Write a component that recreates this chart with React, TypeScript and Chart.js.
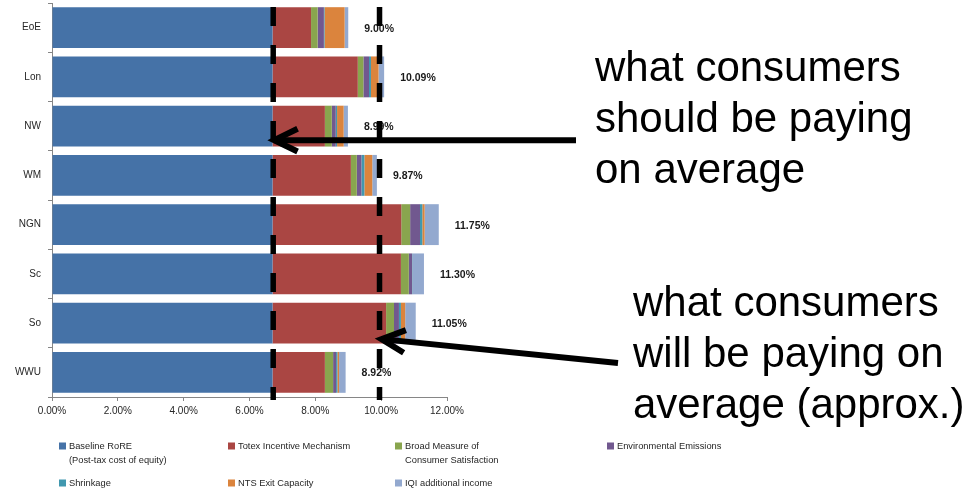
import React, { useEffect, useRef } from 'react';
import { Chart, registerables } from 'chart.js';

Chart.register(...registerables);

// ---- data ----
const categories = ['EoE', 'Lon', 'NW', 'WM', 'NGN', 'Sc', 'So', 'WWU'];
const baselineRoRE = [6.7, 6.7, 6.7, 6.7, 6.7, 6.7, 6.7, 6.7];
const totexIncentive = [1.17, 2.59, 1.59, 2.38, 3.91, 3.9, 3.45, 1.59];
const broadMeasure = [0.2, 0.17, 0.21, 0.18, 0.27, 0.24, 0.24, 0.25];
const envEmissions = [0.19, 0.17, 0.12, 0.14, 0.3, 0.1, 0.15, 0.09];
const shrinkage = [0.02, 0.06, 0.04, 0.09, 0.07, 0.01, 0.06, 0.04];
const ntsExitCapacity = [0.61, 0.23, 0.2, 0.24, 0.07, 0.0, 0.13, 0.05];
const iqiIncome = [0.11, 0.17, 0.13, 0.14, 0.43, 0.35, 0.32, 0.2];

const seriesNames = [
  'Baseline RoRE\n(Post-tax cost of equity)',
  'Totex Incentive Mechanism',
  'Broad Measure of\nConsumer Satisfaction',
  'Environmental Emissions',
  'Shrinkage',
  'NTS Exit Capacity',
  'IQI additional income',
];
const seriesValues = [baselineRoRE, totexIncentive, broadMeasure, envEmissions, shrinkage, ntsExitCapacity, iqiIncome];
const seriesColors = ['#4572A7', '#AA4643', '#89A54E', '#71588F', '#4198AF', '#DB843D', '#93A9CF'];

const xMin = 0;
const xMax = 12;
const xStep = 2;

// reference lines (in % units)
const shouldPayValue = 6.72;
const willPayValue = 9.95;
const noteShould = ['what consumers', 'should be paying', 'on average'];
const noteWill = ['what consumers', 'will be paying on', 'average (approx.)'];

const FONT = '"Liberation Sans", Arial, sans-serif';

function drawArrow(ctx: CanvasRenderingContext2D, x1: number, y1: number, tx: number, ty: number) {
  const ang = Math.atan2(y1 - ty, x1 - tx);
  const wing = 26;
  const spread = (26 * Math.PI) / 180;
  ctx.beginPath();
  ctx.moveTo(x1, y1);
  ctx.lineTo(tx, ty);
  ctx.stroke();
  ctx.beginPath();
  ctx.moveTo(tx + wing * Math.cos(ang + spread), ty + wing * Math.sin(ang + spread));
  ctx.lineTo(tx, ty);
  ctx.lineTo(tx + wing * Math.cos(ang - spread), ty + wing * Math.sin(ang - spread));
  ctx.stroke();
}

const overlayPlugin = {
  id: 'overlay',
  afterDatasetsDraw(chart: any) {
    const { ctx, scales, chartArea } = chart;
    const x = scales.x;
    const y = scales.y;
    ctx.save();
    // total labels
    ctx.font = `bold 10.5px ${FONT}`;
    ctx.fillStyle = '#1a1a1a';
    ctx.textAlign = 'left';
    ctx.textBaseline = 'middle';
    categories.forEach((_, i) => {
      const total = chart.data.datasets.reduce((s: number, d: any) => s + (d.data[i] as number), 0);
      ctx.fillText(total.toFixed(2) + '%', x.getPixelForValue(total) + 16, y.getPixelForValue(i) + 1);
    });

    // dashed reference lines
    ctx.strokeStyle = '#000';
    ctx.lineWidth = 5.5;
    ctx.setLineDash([19, 19]);
    [shouldPayValue, willPayValue].forEach((v) => {
      const px = x.getPixelForValue(v);
      ctx.beginPath();
      ctx.moveTo(px, chartArea.top + 4);
      ctx.lineTo(px, chartArea.bottom + 3);
      ctx.stroke();
    });
    ctx.setLineDash([]);

    // arrows
    ctx.lineWidth = 6;
    ctx.lineCap = 'butt';
    drawArrow(ctx, 576, y.getPixelForValue(2) + 14, x.getPixelForValue(shouldPayValue) + 1, y.getPixelForValue(2) + 14);
    drawArrow(ctx, 618, 363, x.getPixelForValue(willPayValue) + 2, y.getPixelForValue(6) + 16);

    // annotation texts
    ctx.font = `42px ${FONT}`;
    ctx.fillStyle = '#000';
    ctx.textAlign = 'left';
    ctx.textBaseline = 'alphabetic';
    noteShould.forEach((t, i) => ctx.fillText(t, 595, 81 + i * 51));
    noteWill.forEach((t, i) => ctx.fillText(t, 633, 316 + i * 51));
    ctx.restore();
  },
  afterDraw(chart: any) {
    const { ctx } = chart;
    ctx.save();
    const colX = [59, 228, 395, 607];
    const rowY = [446, 483];
    ctx.font = `9.3px ${FONT}`;
    ctx.textAlign = 'left';
    ctx.textBaseline = 'middle';
    chart.data.datasets.forEach((d: any, i: number) => {
      const row = i < 4 ? 0 : 1;
      const col = i < 4 ? i : i - 4;
      const sx = colX[col];
      const sy = rowY[row];
      ctx.fillStyle = d.backgroundColor;
      ctx.fillRect(sx, sy - 3.5, 7, 7);
      ctx.fillStyle = '#262626';
      String(d.label)
        .split('\n')
        .forEach((line: string, li: number) => ctx.fillText(line, sx + 10, sy + li * 14));
    });
    ctx.restore();
  },
};

export default function App() {
  const canvasRef = useRef<HTMLCanvasElement | null>(null);

  useEffect(() => {
    if (!canvasRef.current) return;
    Chart.defaults.font.family = FONT;
    const chart = new Chart(canvasRef.current, {
      type: 'bar',
      data: {
        labels: categories,
        datasets: seriesValues.map((vals, i) => ({
          label: seriesNames[i],
          data: vals,
          backgroundColor: seriesColors[i],
          borderWidth: 0,
          categoryPercentage: 1,
          barPercentage: 0.83,
        })),
      },
      options: {
        indexAxis: 'y',
        responsive: false,
        animation: false,
        devicePixelRatio: 1,
        layout: { padding: { left: 0, right: 533, top: 3, bottom: 72 } },
        plugins: { legend: { display: false }, tooltip: { enabled: false } },
        scales: {
          x: {
            stacked: true,
            min: xMin,
            max: xMax,
            afterFit: (s: any) => {
              s.height = 20;
              s.paddingLeft = 0;
              s.paddingRight = 0;
            },
            ticks: {
              stepSize: xStep,
              autoSkip: false,
              maxRotation: 0,
              color: '#262626',
              font: { size: 10 },
              padding: 4,
              callback: (v: any) => Number(v).toFixed(2) + '%',
            },
            grid: { drawOnChartArea: false, tickLength: 4, color: '#868686' },
            border: { color: '#868686' },
          },
          y: {
            stacked: true,
            afterFit: (s: any) => {
              s.width = 52;
              s.paddingTop = 0;
              s.paddingBottom = 0;
            },
            ticks: { color: '#262626', font: { size: 10 }, padding: 7 },
            grid: { drawOnChartArea: false, offset: true, tickLength: 4, color: '#868686' },
            border: { color: '#868686' },
          },
        },
      },
      plugins: [overlayPlugin],
    });
    return () => chart.destroy();
  }, []);

  return (
    <div style={{ position: 'fixed', left: 0, top: 0, width: 980, height: 489, background: '#fff' }}>
      <canvas ref={canvasRef} width={980} height={489} />
    </div>
  );
}
